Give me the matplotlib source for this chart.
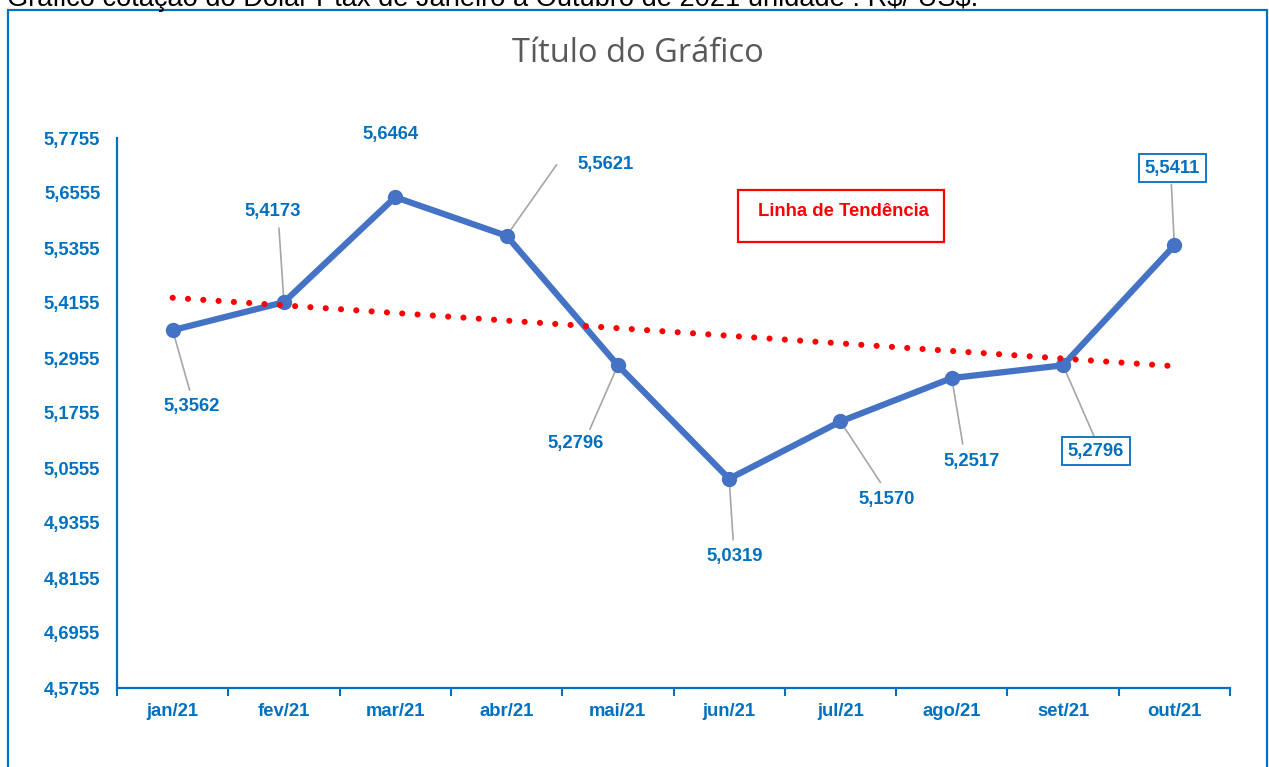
import matplotlib
matplotlib.use("Agg")
import matplotlib.pyplot as plt
import matplotlib.patches as mpatches
import numpy as np

plt.rcParams['font.family'] = ['Liberation Sans', 'DejaVu Sans']

months = ["jan/21", "fev/21", "mar/21", "abr/21", "mai/21",
          "jun/21", "jul/21", "ago/21", "set/21", "out/21"]
values = [5.3562, 5.4173, 5.6464, 5.5621, 5.2796,
          5.0319, 5.1570, 5.2517, 5.2796, 5.5411]
yticks = [4.5755, 4.6955, 4.8155, 4.9355, 5.0555, 5.1755,
          5.2955, 5.4155, 5.5355, 5.6555, 5.7755]
# label offsets in pixels (dx, dy) and whether boxed
label_offsets = [(19, -76), (-11, 91), (-5, 63), (99, 71), (-42, -78),
                 (6, -78), (46, -78), (20, -83), (33, -86), (-2, 77)]
boxed = [False, False, False, False, False, False, False, False, True, True]
leader_ends = [(17, -60), (-5, 74), None, (50, 71), (-28, -64),
               (4, -61), (40, -61), (11, -66), (31, -71), (-3, 61)]

BLUE = "#0070C0"
SERIES = "#4472C4"

fig = plt.figure(figsize=(12.69, 7.67), dpi=100)
W, H = 1269, 767
ax = fig.add_axes([117 / W, 1 - 688 / H, (1230 - 117) / W, 550 / H])

x = np.arange(len(months))
ax.plot(x, values, color=SERIES, lw=4.5, marker='o', markersize=10,
        solid_capstyle='round', zorder=3)

# trend line (linear fit)
coef = np.polyfit(x, values, 1)
ax.plot(x, np.polyval(coef, x), color='red', lw=4.4,
        linestyle=(0, (0.01, 2.5)), dash_capstyle='round', zorder=4)

ax.set_xlim(-0.5, len(months) - 0.5)
ax.set_ylim(yticks[0], yticks[-1])
ax.set_yticks(yticks)
ax.set_yticklabels([f"{v:.4f}".replace('.', ',') for v in yticks])
ax.set_xticks(x)
ax.set_xticklabels(months)
ax.set_xticks(np.arange(-0.5, len(months)), minor=True)
ax.tick_params(axis='x', which='major', length=0, pad=11)
ax.tick_params(axis='x', which='minor', length=6, width=1.5, color=BLUE, direction='out')
ax.tick_params(axis='y', length=0, pad=12)
for lab in ax.get_xticklabels() + ax.get_yticklabels():
    lab.set_color(BLUE)
    lab.set_fontweight('bold')
    lab.set_fontsize(13.3)
for s in ['top', 'right']:
    ax.spines[s].set_visible(False)
for s in ['left', 'bottom']:
    ax.spines[s].set_color(BLUE)
    ax.spines[s].set_linewidth(1.6)

# data labels
for i, v in enumerate(values):
    dx, dy = label_offsets[i]
    txt = f"{v:.4f}".replace('.', ',')
    bbox = dict(boxstyle='square,pad=0.3', fc='white', ec=BLUE, lw=1.3) if boxed[i] else None
    ax.annotate(txt, (i, v), xytext=(dx, dy), textcoords='offset pixels',
                ha='center', va='center', color=BLUE, fontweight='bold',
                fontsize=13.3, bbox=bbox, zorder=6, annotation_clip=False)
    if leader_ends[i] is not None:
        lx, ly = leader_ends[i]
        ax.annotate('', (i, v), xytext=(lx, ly), textcoords='offset pixels',
                    arrowprops=dict(arrowstyle='-', color='#A6A6A6', lw=1.2,
                                    shrinkA=0, shrinkB=0), zorder=2)

# title
fig.text(638 / W, 1 - 54 / H, "Título do Gráfico", ha='center', va='center',
         fontsize=23.5, color='#595959', family=['Open Sans', 'DejaVu Sans'])

# legend-like box
fig.patches.append(mpatches.Rectangle((738 / W, 1 - 242 / H), 206 / W, 52 / H,
                                      transform=fig.transFigure, fill=False,
                                      ec='red', lw=1.6))
fig.text(843 / W, 1 - 212 / H, "Linha de Tendência", ha='center', va='center',
         fontsize=13.3, color='red', fontweight='bold')

# outer frame
fig.patches.append(mpatches.Rectangle((8 / W, -0.05), (1267 - 8) / W, 1.05 - 10 / H,
                                      transform=fig.transFigure, fill=False,
                                      ec=BLUE, lw=1.6))

# caption at the very top (cut by the image edge, as in the reference)
fig.text(7 / W, 1 - 6 / H,
         "Gráfico cotação do Dólar Ptax de Janeiro a Outubro de 2021 unidade : R\\$/ US\\$.",
         ha='left', va='baseline', fontsize=19.6, color='black')

fig.savefig("out.png", dpi=100)
